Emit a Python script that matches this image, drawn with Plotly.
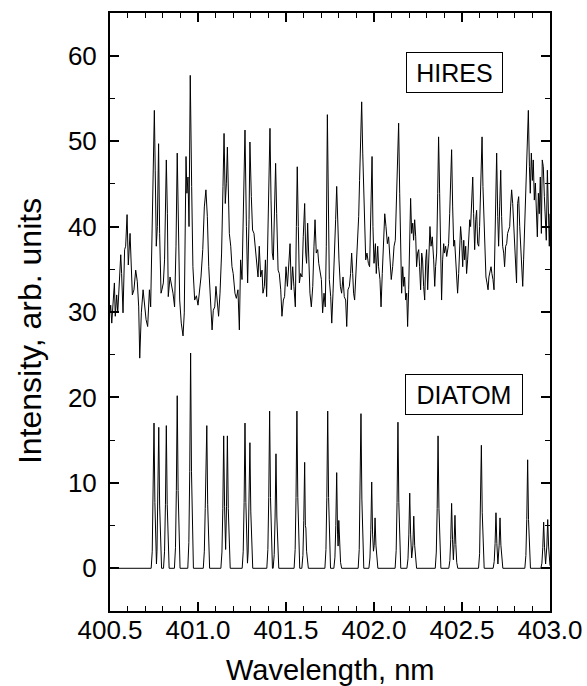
import plotly.graph_objects as go

# HIRES spectrum (wavelength in nm, intensity in arb. units)
hires_wl = [
    400.500, 400.504, 400.510, 400.519, 400.525, 400.530, 400.538, 400.544, 400.551, 400.561,
    400.566, 400.574, 400.583, 400.589, 400.597, 400.604, 400.614, 400.621, 400.627, 400.636,
    400.646, 400.655, 400.663, 400.669, 400.678, 400.688, 400.697, 400.705, 400.714, 400.724,
    400.731, 400.737, 400.744, 400.752, 400.757, 400.763, 400.769, 400.776, 400.782, 400.790,
    400.795, 400.803, 400.810, 400.820, 400.826, 400.831, 400.841, 400.848, 400.858, 400.867,
    400.875, 400.882, 400.888, 400.896, 400.905, 400.915, 400.922, 400.932, 400.937, 400.943,
    400.949, 400.956, 400.964, 400.971, 400.981, 400.991, 401.000, 401.008, 401.017, 401.027,
    401.036, 401.045, 401.053, 401.061, 401.070, 401.080, 401.087, 401.095, 401.102, 401.110,
    401.117, 401.125, 401.134, 401.142, 401.148, 401.155, 401.161, 401.167, 401.172, 401.178,
    401.186, 401.193, 401.200, 401.210, 401.218, 401.227, 401.235, 401.242, 401.250, 401.259,
    401.267, 401.275, 401.282, 401.290, 401.295, 401.303, 401.310, 401.318, 401.326, 401.333,
    401.341, 401.348, 401.356, 401.364, 401.369, 401.377, 401.383, 401.390, 401.398, 401.403,
    401.409, 401.415, 401.422, 401.428, 401.436, 401.441, 401.447, 401.455, 401.462, 401.470,
    401.477, 401.485, 401.492, 401.500, 401.508, 401.515, 401.523, 401.530, 401.538, 401.545,
    401.553, 401.559, 401.564, 401.570, 401.576, 401.583, 401.591, 401.598, 401.606, 401.612,
    401.617, 401.623, 401.629, 401.636, 401.644, 401.652, 401.659, 401.665, 401.672, 401.680,
    401.686, 401.693, 401.701, 401.708, 401.716, 401.723, 401.729, 401.735, 401.740, 401.746,
    401.754, 401.760, 401.767, 401.775, 401.782, 401.788, 401.794, 401.801, 401.809, 401.816,
    401.824, 401.831, 401.839, 401.845, 401.852, 401.860, 401.867, 401.873, 401.879, 401.884,
    401.890, 401.898, 401.905, 401.913, 401.918, 401.924, 401.930, 401.936, 401.941, 401.947,
    401.953, 401.960, 401.968, 401.975, 401.983, 401.989, 401.994, 402.000, 402.008, 402.013,
    402.021, 402.026, 402.034, 402.040, 402.047, 402.055, 402.061, 402.068, 402.076, 402.083,
    402.091, 402.098, 402.106, 402.114, 402.121, 402.129, 402.134, 402.140, 402.146, 402.152,
    402.157, 402.163, 402.169, 402.174, 402.180, 402.186, 402.191, 402.197, 402.203, 402.208,
    402.214, 402.220, 402.225, 402.231, 402.237, 402.242, 402.248, 402.254, 402.259, 402.265,
    402.271, 402.276, 402.282, 402.288, 402.294, 402.299, 402.305, 402.311, 402.318, 402.324,
    402.331, 402.339, 402.345, 402.350, 402.356, 402.362, 402.367, 402.373, 402.379, 402.384,
    402.390, 402.396, 402.400, 402.407, 402.413, 402.418, 402.424, 402.430, 402.435, 402.441,
    402.447, 402.453, 402.458, 402.464, 402.470, 402.475, 402.481, 402.487, 402.492, 402.498,
    402.504, 402.510, 402.515, 402.521, 402.526, 402.532, 402.538, 402.544, 402.549, 402.555,
    402.561, 402.566, 402.572, 402.578, 402.583, 402.589, 402.595, 402.600, 402.608, 402.614,
    402.619, 402.625, 402.631, 402.636, 402.642, 402.648, 402.653, 402.659, 402.665, 402.670,
    402.676, 402.682, 402.687, 402.693, 402.697, 402.703, 402.708, 402.714, 402.720, 402.725,
    402.731, 402.737, 402.742, 402.748, 402.754, 402.759, 402.765, 402.771, 402.776, 402.782,
    402.788, 402.793, 402.799, 402.805, 402.810, 402.816, 402.822, 402.828, 402.833, 402.839,
    402.845, 402.850, 402.856, 402.862, 402.867, 402.873, 402.877, 402.883, 402.888, 402.894,
    402.900, 402.905, 402.911, 402.917, 402.922, 402.928, 402.934, 402.939, 402.945, 402.951,
    402.956, 402.962, 402.968, 402.973, 402.979, 402.985, 402.991, 402.996, 403.000,
]
hires_int = [
    29.9, 30.8, 28.7, 32.6, 33.4, 29.5, 32.0, 29.9, 32.2, 36.7,
    34.5, 29.9, 37.3, 37.7, 41.4, 35.5, 39.2, 35.3, 32.0, 32.6,
    34.9, 33.6, 30.6, 24.6, 29.9, 32.6, 31.0, 29.1, 28.3, 32.6,
    30.6, 36.1, 43.1, 53.6, 46.6, 37.7, 40.0, 49.7, 39.2, 32.2,
    32.6, 33.4, 36.1, 47.8, 41.5, 31.8, 34.1, 33.4, 32.2, 30.6,
    37.7, 48.6, 39.2, 31.4, 28.7, 27.2, 29.9, 48.2, 43.9, 45.8,
    40.0, 57.7, 44.7, 35.3, 31.4, 31.9, 30.8, 32.2, 34.1, 37.3,
    42.3, 44.3, 41.2, 35.3, 31.4, 27.9, 30.2, 30.6, 33.0, 30.6,
    29.5, 32.2, 36.9, 44.7, 50.9, 42.7, 45.0, 49.3, 44.7, 39.2,
    37.7, 35.3, 34.5, 32.2, 31.6, 32.6, 27.9, 36.1, 33.8, 44.7,
    51.3, 40.0, 33.4, 40.8, 49.9, 43.5, 39.6, 39.2, 37.3, 35.3,
    34.1, 37.7, 34.1, 34.9, 32.2, 33.0, 36.1, 31.8, 39.2, 47.0,
    51.5, 43.1, 36.9, 36.1, 43.1, 47.4, 41.5, 34.9, 34.5, 32.6,
    29.5, 31.4, 31.8, 35.3, 33.0, 36.1, 38.0, 32.6, 35.3, 33.0,
    30.6, 40.0, 47.0, 40.0, 33.4, 34.5, 34.1, 38.8, 42.7, 36.9,
    35.7, 40.4, 35.3, 32.2, 30.6, 33.0, 37.7, 40.8, 36.9, 37.3,
    35.7, 34.5, 33.8, 29.9, 32.2, 30.6, 37.7, 53.1, 43.9, 33.8,
    31.8, 28.7, 32.2, 36.1, 40.8, 44.7, 39.2, 36.1, 33.0, 32.2,
    34.1, 31.8, 31.4, 28.3, 32.6, 33.0, 34.5, 36.9, 34.5, 32.2,
    31.4, 34.5, 37.7, 41.2, 45.4, 51.7, 54.6, 48.6, 43.9, 40.0,
    36.1, 36.9, 35.7, 35.3, 44.7, 48.2, 40.0, 35.7, 38.0, 34.5,
    37.7, 35.3, 33.8, 30.6, 34.5, 38.4, 41.5, 40.0, 38.0, 38.8,
    36.1, 33.8, 35.3, 37.7, 38.4, 43.1, 47.8, 52.1, 43.9, 36.9,
    32.2, 35.3, 33.0, 34.1, 31.4, 32.2, 28.3, 32.6, 38.0, 43.3,
    39.2, 40.4, 38.4, 40.8, 38.8, 35.3, 36.9, 37.3, 35.3, 32.6,
    36.9, 36.1, 33.0, 31.4, 36.1, 37.3, 32.6, 36.5, 40.0, 37.7,
    38.8, 36.1, 33.0, 35.3, 36.9, 43.9, 50.5, 43.9, 35.3, 31.4,
    36.1, 38.0, 36.9, 37.7, 36.5, 37.3, 38.0, 41.5, 44.7, 49.0,
    42.3, 37.7, 38.4, 36.1, 34.5, 32.2, 34.5, 37.7, 40.0, 38.4,
    35.3, 38.4, 36.1, 37.7, 34.5, 36.1, 39.2, 40.8, 40.0, 43.1,
    45.8, 41.5, 37.3, 40.8, 41.9, 38.0, 37.7, 40.0, 45.8, 50.5,
    44.7, 40.0, 37.7, 34.1, 33.4, 32.6, 34.1, 34.9, 35.3, 34.5,
    33.8, 32.6, 38.0, 45.1, 48.6, 41.2, 37.7, 42.3, 46.6, 41.2,
    37.7, 36.9, 35.3, 37.7, 38.0, 39.2, 39.6, 40.0, 42.3, 44.3,
    42.7, 40.8, 37.7, 35.3, 33.4, 42.7, 43.5, 40.0, 37.7, 35.3,
    33.0, 36.1, 40.0, 43.1, 46.6, 50.1, 53.6, 47.0, 43.9, 48.6,
    45.4, 47.8, 43.1, 45.1, 42.3, 38.8, 43.9, 41.5, 45.8, 39.2,
    47.8, 47.0, 43.5, 40.8, 38.4, 46.6, 42.3, 37.7, 41.5,
]

# DIATOM line spectrum, one line (or blended pair) per row
diatom_wl = [
    400.500,
    400.734, 400.740, 400.745, 400.750, 400.755, 400.760, 400.764, 400.767, 400.772, 400.777, 400.782, 400.787, 400.793,
    400.804, 400.810, 400.815, 400.820, 400.825, 400.830, 400.836,
    400.866, 400.872, 400.877, 400.882, 400.887, 400.892, 400.898,
    400.942, 400.948, 400.953, 400.958, 400.963, 400.968, 400.974,
    401.030, 401.036, 401.041, 401.046, 401.050, 401.055, 401.060, 401.066,
    401.130, 401.136, 401.141, 401.146, 401.151, 401.157, 401.162, 401.167, 401.172, 401.177, 401.183,
    401.251, 401.257, 401.262, 401.267, 401.272, 401.277, 401.281, 401.285, 401.290, 401.295, 401.300, 401.305, 401.311,
    401.391, 401.397, 401.402, 401.407, 401.412, 401.417, 401.423,
    401.427, 401.433, 401.438, 401.443, 401.448, 401.453, 401.459,
    401.546, 401.552, 401.557, 401.562, 401.567, 401.572, 401.578,
    401.590, 401.596, 401.601, 401.606, 401.610, 401.613, 401.617, 401.622, 401.627,
    401.721, 401.727, 401.732, 401.737, 401.742, 401.747, 401.753,
    401.772, 401.778, 401.783, 401.788, 401.793, 401.796, 401.800, 401.805, 401.810, 401.816,
    401.910, 401.916, 401.921, 401.926, 401.931, 401.936, 401.942,
    401.971, 401.977, 401.982, 401.987, 401.992, 401.997, 402.001, 402.006, 402.011, 402.016, 402.022,
    402.120, 402.126, 402.131, 402.136, 402.141, 402.146, 402.152,
    402.187, 402.193, 402.198, 402.203, 402.208, 402.214, 402.221, 402.226, 402.231, 402.236, 402.242,
    402.348, 402.354, 402.359, 402.364, 402.369, 402.374, 402.380,
    402.425, 402.431, 402.436, 402.441, 402.446, 402.451, 402.455, 402.460, 402.465, 402.470, 402.476,
    402.594, 402.600, 402.605, 402.610, 402.615, 402.620, 402.626,
    402.677, 402.683, 402.688, 402.693, 402.698, 402.704, 402.711, 402.716, 402.721, 402.726, 402.732,
    402.857, 402.863, 402.868, 402.873, 402.878, 402.883, 402.889,
    402.948, 402.954, 402.959, 402.964, 402.969, 402.975, 402.982, 402.987, 402.992, 402.997, 403.000,
]
diatom_int = [
    0.0,
    0.0, 2.0, 7.7, 17.0, 7.7, 2.2, 0.5, 2.0, 7.4, 16.5, 7.4, 2.0, 0.0,
    0.0, 2.0, 7.5, 16.7, 7.5, 2.0, 0.0,
    0.0, 2.4, 9.1, 20.2, 9.1, 2.4, 0.0,
    0.0, 3.0, 11.3, 25.2, 11.3, 3.0, 0.0,
    0.0, 2.0, 7.0, 13.5, 16.7, 7.5, 2.0, 0.0,
    0.0, 1.9, 7.0, 15.5, 7.2, 2.2, 7.2, 15.5, 7.0, 1.9, 0.0,
    0.0, 2.0, 7.7, 17.0, 7.7, 2.1, 0.6, 1.9, 6.6, 14.7, 6.6, 1.8, 0.0,
    0.0, 2.2, 8.3, 18.4, 8.3, 2.2, 0.0,
    0.0, 1.6, 6.0, 13.4, 6.0, 1.6, 0.0,
    0.0, 2.2, 8.3, 18.4, 8.3, 2.2, 0.0,
    0.0, 1.5, 5.6, 12.4, 5.0, 4.7, 2.0, 0.5, 0.0,
    0.0, 2.2, 8.3, 18.4, 8.3, 2.2, 0.0,
    0.0, 1.3, 5.0, 11.2, 4.0, 2.6, 5.6, 2.5, 0.7, 0.0,
    0.0, 2.2, 8.1, 18.1, 8.1, 2.2, 0.0,
    0.0, 1.2, 4.5, 10.1, 4.0, 2.0, 2.7, 5.9, 2.7, 0.7, 0.0,
    0.0, 2.1, 7.7, 17.1, 7.7, 2.1, 0.0,
    0.0, 1.1, 4.0, 8.8, 4.0, 1.2, 2.7, 6.1, 2.7, 0.7, 0.0,
    0.0, 1.9, 7.0, 15.5, 7.0, 1.9, 0.0,
    0.0, 0.9, 3.4, 7.6, 3.4, 1.0, 2.8, 6.2, 2.8, 0.7, 0.0,
    0.0, 1.7, 6.5, 14.4, 6.5, 1.7, 0.0,
    0.0, 0.8, 2.9, 6.5, 2.9, 0.5, 2.7, 5.9, 2.7, 0.7, 0.0,
    0.0, 1.5, 5.7, 12.7, 5.7, 1.5, 0.0,
    0.0, 0.6, 2.4, 5.4, 2.4, 0.5, 2.6, 5.7, 2.6, 0.7, 0.3,
]

x_ticks = [400.5, 401.0, 401.5, 402.0, 402.5, 403.0]
y_ticks = [0, 10, 20, 30, 40, 50, 60]

FONT = "Liberation Sans, Arial, Helvetica, sans-serif"

fig = go.Figure()
fig.add_trace(go.Scatter(x=hires_wl, y=hires_int, mode="lines",
                         line=dict(color="black", width=1), name="HIRES"))
fig.add_trace(go.Scatter(x=diatom_wl, y=diatom_int, mode="lines",
                         line=dict(color="black", width=1), name="DIATOM"))

axis_common = dict(
    showline=True, linecolor="black", linewidth=2, mirror="ticks",
    ticks="inside", tickcolor="black", tickwidth=1.5, ticklen=9,
    showgrid=False, zeroline=False, automargin=False,
    tickfont=dict(family=FONT, size=26, color="black"),
)

fig.update_xaxes(
    range=[400.5, 403.0], tickvals=x_ticks,
    ticktext=[f"{v:.1f}" for v in x_ticks],
    minor=dict(dtick=0.1, tick0=400.5, ticks="inside", ticklen=5,
               tickwidth=1, tickcolor="black"),
    ticklabelstandoff=-5,
    **axis_common,
)
fig.update_yaxes(
    range=[-5, 65], tickvals=y_ticks,
    minor=dict(dtick=5, tick0=0, ticks="inside", ticklen=5,
               tickwidth=1, tickcolor="black"),
    ticklabelstandoff=6,
    **axis_common,
)

# axis titles placed as paper-anchored text
fig.add_annotation(
    x=0.5, y=-0.099, xref="paper", yref="paper", xanchor="center", yanchor="middle",
    text="Wavelength, nm", showarrow=False,
    font=dict(family=FONT, size=29, color="black"),
)
fig.add_annotation(
    x=-0.182, y=0.468, xref="paper", yref="paper", xanchor="center", yanchor="middle",
    text="Intensity, arb. units", textangle=-90, showarrow=False,
    font=dict(family=FONT, size=32, color="black"),
)

for label, xc, yc, w in [("HIRES", 402.46, 58.0, 95), ("DIATOM", 402.51, 20.3, 116)]:
    fig.add_annotation(
        x=xc, y=yc, xref="x", yref="y", text=label, showarrow=False,
        font=dict(family=FONT, size=25, color="black"),
        bordercolor="black", borderwidth=1, borderpad=0,
        width=w, height=39, bgcolor="white",
    )

fig.update_layout(
    width=587, height=686,
    margin=dict(l=110, r=37, t=13, b=75),
    plot_bgcolor="white", paper_bgcolor="white",
    showlegend=False,
)

fig.write_html("out.html")
